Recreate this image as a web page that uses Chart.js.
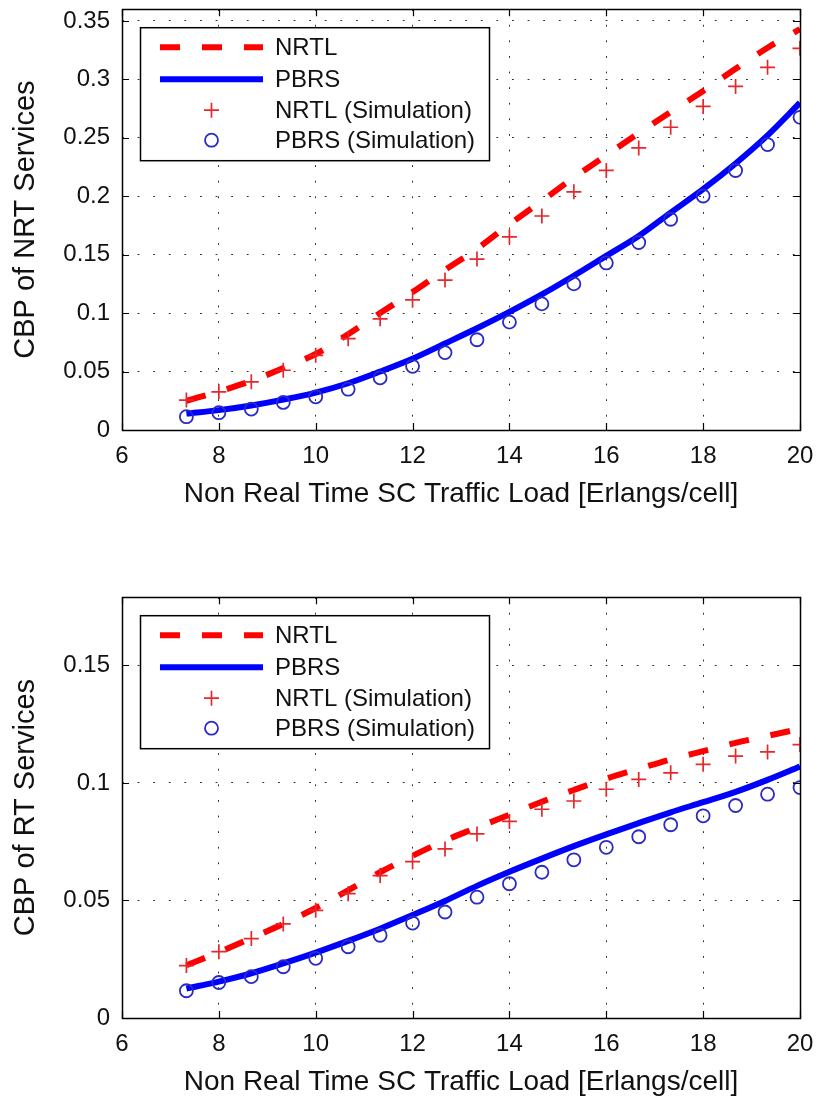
<!DOCTYPE html>
<html><head><meta charset="utf-8">
<script src="https://cdn.jsdelivr.net/npm/chart.js@4.4.0/dist/chart.umd.min.js"></script>
<style>
html,body{margin:0;padding:0;background:#fff;width:819px;height:1097px;overflow:hidden;}
canvas{position:absolute;left:0;}
#c1{top:0px}
#c2{top:588px}
</style></head><body>
<canvas id="c1" width="819" height="530"></canvas>
<canvas id="c2" width="819" height="509"></canvas>
<script>
// ---- data ----
const loads = [7.33, 8, 8.67, 9.33, 10, 10.67, 11.33, 12, 12.67, 13.33, 14, 14.67, 15.33, 16, 16.67, 17.33, 18, 18.67, 19.33, 20];
const xTickValues = [6, 8, 10, 12, 14, 16, 18, 20];
const nrtYTicks = [0, 0.05, 0.1, 0.15, 0.2, 0.25, 0.3, 0.35];
const rtYTicks = [0, 0.05, 0.1, 0.15];
const seriesLabels = ['NRTL', 'PBRS', 'NRTL (Simulation)', 'PBRS (Simulation)'];

// Top: CBP of NRT services
const nrtNRTL    = [0.025, 0.033, 0.042, 0.053, 0.065, 0.082, 0.100, 0.118, 0.137, 0.155, 0.176, 0.196, 0.216, 0.235, 0.254, 0.272, 0.290, 0.309, 0.327, 0.343];
const nrtPBRS    = [0.014, 0.017, 0.021, 0.026, 0.032, 0.040, 0.050, 0.061, 0.074, 0.087, 0.101, 0.116, 0.132, 0.149, 0.166, 0.186, 0.206, 0.228, 0.252, 0.280];
const nrtNRTLSim = [0.0256, 0.0327, 0.0412, 0.0511, 0.0639, 0.0781, 0.0951, 0.1113, 0.1283, 0.1462, 0.1652, 0.1831, 0.2038, 0.2221, 0.2413, 0.259, 0.2768, 0.2939, 0.3103, 0.3265];
const nrtPBRSSim = [0.0114, 0.0148, 0.0179, 0.0236, 0.0284, 0.0349, 0.0446, 0.0545, 0.0662, 0.0772, 0.0923, 0.1079, 0.125, 0.1429, 0.1604, 0.1803, 0.2002, 0.222, 0.2442, 0.2675];

// Bottom: CBP of RT services
const rtNRTL    = [0.0224, 0.028, 0.034, 0.040, 0.0468, 0.0543, 0.062, 0.069, 0.0755, 0.081, 0.0865, 0.092, 0.097, 0.1018, 0.106, 0.110, 0.1135, 0.117, 0.120, 0.123];
const rtPBRS    = [0.0125, 0.0155, 0.019, 0.0232, 0.0278, 0.0328, 0.038, 0.0438, 0.0498, 0.0562, 0.0622, 0.0678, 0.0731, 0.0781, 0.0829, 0.0875, 0.0918, 0.0962, 0.1013, 0.107];
const rtNRTLSim = [0.0223, 0.0282, 0.0338, 0.040, 0.0458, 0.0529, 0.0606, 0.0665, 0.0719, 0.0783, 0.0836, 0.0888, 0.0923, 0.0973, 0.1015, 0.1043, 0.1079, 0.1114, 0.1132, 0.1163];
const rtPBRSSim = [0.0116, 0.0151, 0.0176, 0.0218, 0.0254, 0.0303, 0.0352, 0.0404, 0.0451, 0.0514, 0.0571, 0.062, 0.0673, 0.0726, 0.0771, 0.0822, 0.086, 0.0904, 0.0952, 0.098];

// ---- styling ----
const FONT = '"Liberation Sans", Arial, Helvetica, sans-serif';
const TXT = '#111';

function pts(vals) { return loads.map((x, i) => ({x: x, y: vals[i]})); }

function makeDatasets(nrtl, pbrs, nrtlSim, pbrsSim) {
  return [
    {label: seriesLabels[2], data: pts(nrtlSim), showLine: false, pointStyle: 'cross', pointRadius: 7.5,
     borderColor: '#e4282c', backgroundColor: '#e4282c', borderWidth: 1.7},
    {label: seriesLabels[3], data: pts(pbrsSim), showLine: false, pointStyle: 'circle', pointRadius: 6.5,
     borderColor: '#2a2ac6', backgroundColor: 'rgba(0,0,0,0)', borderWidth: 1.8},
    {label: seriesLabels[0], data: pts(nrtl), showLine: true, pointRadius: 0, borderColor: '#ff0000',
     borderWidth: 6, borderDash: [20, 22], cubicInterpolationMode: 'monotone', fill: false},
    {label: seriesLabels[1], data: pts(pbrs), showLine: true, pointRadius: 0, borderColor: '#0000ff',
     borderWidth: 6, cubicInterpolationMode: 'monotone', fill: false}
  ];
}

const framePlugin = {
  id: 'frame',
  afterDatasetsDraw(chart) {
    const ctx = chart.ctx, a = chart.chartArea;
    const xs = chart.scales.x, ys = chart.scales.y;
    ctx.save();
    ctx.strokeStyle = '#000';
    ctx.lineWidth = 1.2;
    const L = 7;
    ctx.beginPath();
    xs.ticks.forEach(t => {
      const px = Math.round(xs.getPixelForValue(t.value)) + 0.5;
      ctx.moveTo(px, a.bottom); ctx.lineTo(px, a.bottom - L);
      ctx.moveTo(px, a.top); ctx.lineTo(px, a.top + L);
    });
    ys.ticks.forEach(t => {
      const py = Math.round(ys.getPixelForValue(t.value)) + 0.5;
      ctx.moveTo(a.left, py); ctx.lineTo(a.left + L, py);
      ctx.moveTo(a.right, py); ctx.lineTo(a.right - L, py);
    });
    ctx.stroke();
    ctx.lineWidth = 1.5;
    ctx.strokeRect(Math.round(a.left) + 0.5, Math.round(a.top) + 0.5, Math.round(a.right - a.left), Math.round(a.bottom - a.top));
    ctx.restore();
  },
  afterDraw(chart) {
    // legend box inside plot area (upper left)
    const ctx = chart.ctx, a = chart.chartArea;
    const bx = a.left + 18, by = a.top + 18, bw = 349, bh = 133;
    ctx.save();
    ctx.fillStyle = '#fff';
    ctx.fillRect(bx, by, bw, bh);
    ctx.strokeStyle = '#000';
    ctx.lineWidth = 1.5;
    ctx.strokeRect(bx + 0.5, by + 0.5, bw, bh);
    const order = [2, 3, 0, 1];
    const rows = [20, 52, 83, 113];
    const sx0 = bx + 20, sx1 = bx + 123, tx = bx + 135;
    ctx.font = '24px ' + FONT;
    ctx.textBaseline = 'middle';
    ctx.textAlign = 'left';
    order.forEach((di, r) => {
      const ds = chart.data.datasets[di];
      const y = by + rows[r];
      if (ds.showLine) {
        ctx.save();
        ctx.strokeStyle = ds.borderColor;
        ctx.lineWidth = ds.borderWidth;
        ctx.setLineDash(ds.borderDash || []);
        ctx.beginPath(); ctx.moveTo(sx0, y); ctx.lineTo(sx1, y); ctx.stroke();
        ctx.restore();
      } else {
        ctx.save();
        ctx.strokeStyle = ds.borderColor;
        ctx.fillStyle = ds.backgroundColor;
        ctx.lineWidth = ds.borderWidth;
        Chart.helpers.drawPoint(ctx, {pointStyle: ds.pointStyle, radius: ds.pointRadius, borderWidth: ds.borderWidth, rotation: 0}, (sx0 + sx1) / 2, y);
        ctx.restore();
      }
      ctx.fillStyle = TXT;
      ctx.fillText(ds.label, tx, y + 1);
    });
    ctx.restore();
  }
};

function build(id, canvasH, yTicks, yMax, yTitle, data) {
  const plotBottom = 430;
  const xTitleCenter = 494;
  new Chart(document.getElementById(id), {
    type: 'scatter',
    data: {datasets: data},
    options: {
      responsive: false, animation: false, devicePixelRatio: 1,
      layout: {padding: {top: 7, right: 19, left: 0, bottom: 0}},
      plugins: {legend: {display: false}, tooltip: {enabled: false}},
      scales: {
        x: {
          type: 'linear', min: 6, max: 20,
          afterBuildTicks: s => { s.ticks = xTickValues.map(v => ({value: v})); },
          afterFit: s => { s.height = canvasH - plotBottom; s.paddingLeft = 0; s.paddingRight = 0; },
          grid: {color: '#2a2a2a', lineWidth: 1, drawTicks: false},
          border: {display: false, dash: [1.8, 13.8]},
          ticks: {color: TXT, font: {family: FONT, size: 24, lineHeight: 1}, padding: 14, maxRotation: 0,
                  callback: v => String(v)},
          title: {display: true, text: 'Non Real Time SC Traffic Load [Erlangs/cell]', color: TXT,
                  font: {family: FONT, size: 28, lineHeight: 1},
                  padding: {top: 0, bottom: Math.max(0, canvasH - xTitleCenter - 14)}}
        },
        y: {
          type: 'linear', min: 0, max: yMax,
          afterBuildTicks: s => { s.ticks = yTicks.map(v => ({value: v})); },
          afterFit: s => { s.width = 122; s.paddingTop = 0; s.paddingBottom = 0; },
          grid: {color: '#2a2a2a', lineWidth: 1, drawTicks: false},
          border: {display: false, dash: [1.8, 13.8]},
          ticks: {color: TXT, font: {family: FONT, size: 24}, padding: 12,
                  callback: v => String(+Number(v).toFixed(2))},
          title: {display: true, text: yTitle, color: TXT, font: {family: FONT, size: 29, lineHeight: 1},
                  padding: {top: 11, bottom: 0}}
        }
      }
    },
    plugins: [framePlugin]
  });
}

build('c1', 530, nrtYTicks, 0.36, 'CBP of NRT Services', makeDatasets(nrtNRTL, nrtPBRS, nrtNRTLSim, nrtPBRSSim));
build('c2', 509, rtYTicks, 0.179, 'CBP of RT Services', makeDatasets(rtNRTL, rtPBRS, rtNRTLSim, rtPBRSSim));
</script>
</body></html>
